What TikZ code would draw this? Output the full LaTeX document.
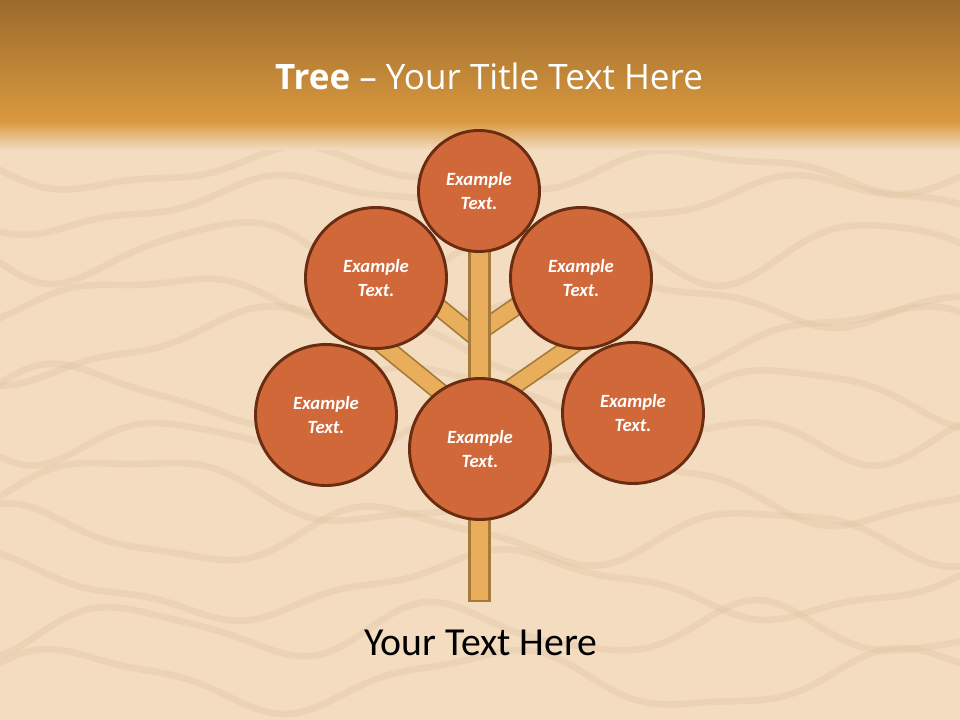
\documentclass[tikz,border=0pt]{standalone}
\usepackage{fontspec}
\setmainfont{Carlito}
\newfontfamily\titlefont{Open Sans}
\definecolor{bandtop}{HTML}{9B6B2C}
\definecolor{bandbot}{HTML}{DA993F}
\definecolor{wood}{HTML}{F3DCC0}
\definecolor{grain}{HTML}{DDBF9C}
\definecolor{ballfill}{HTML}{D1683A}
\definecolor{ballline}{HTML}{6B2D12}
\definecolor{stemfill}{HTML}{E8AE5C}
\definecolor{stemline}{HTML}{A57A3A}
\begin{document}
\begin{tikzpicture}[x=0.75pt,y=-0.75pt,
  ball/.style={circle,fill=ballfill,draw=ballline,line width=2.2pt,inner sep=0pt,
    font=\fontsize{14}{17.3}\selectfont\bfseries\itshape,text=white,align=center},
  branchout/.style={line width=14pt,draw=stemline},
  branchin/.style={line width=11.4pt,draw=stemfill},
  grainline/.style={draw=grain,line width=5pt,opacity=0.28,line cap=round}]
\useasboundingbox (0,0) rectangle (960,720);
% background
\fill[wood] (0,0) rectangle (960,720);
\foreach \y/\a/\f/\p in {170/18/0.9/0,205/25/0.7/60,250/30/1.1/20,300/22/0.8/140,345/35/0.6/90,
  395/28/1.0/200,440/20/1.3/40,490/32/0.75/170,535/26/0.95/260,585/30/0.65/300,630/24/1.15/120,680/28/0.85/210}{
  \draw[grainline] plot[domain=0:960,samples=60,smooth] (\x,{\y+\a*sin(\f*\x+\p)+6*sin(2.1*\x+\p)});
}
\shade[top color=bandtop,bottom color=bandbot] (0,0) rectangle (960,122);
\shade[top color=bandbot,bottom color=wood] (0,121.5) rectangle (960,150);
% title
\node[text=white,font=\titlefont\fontsize{26.3}{31}\selectfont] (title) at (489,76) {\textbf{Tree} – Your Title Text Here};
% branch anchor coordinates
\coordinate (ulA) at (479,340); \coordinate (ulB) at (430,300);
\coordinate (urA) at (479,332); \coordinate (urB) at (530,297);
\coordinate (llA) at (450,400); \coordinate (llB) at (380,343);
\coordinate (lrA) at (505,392); \coordinate (lrB) at (580,340);
\foreach \a/\b in {ulA/ulB,urA/urB,llA/llB,lrA/lrB}{
  \draw[branchout] (\a) -- (\b);
  \draw[branchin] (\a) -- (\b);
}
% trunk
\node[draw=stemline,fill=stemfill,line width=1.6pt,minimum width=20pt*0.75,minimum height=350*0.75pt,inner sep=0pt,anchor=north] (trunk) at (479.5,250) {};
% circles
\node[ball,minimum size=121*0.75pt] (top) at (479,191) {Example\\Text.};
\node[ball,minimum size=141*0.75pt] (ul) at (376,278) {Example\\Text.};
\node[ball,minimum size=141*0.75pt] (ur) at (581,278) {Example\\Text.};
\node[ball,minimum size=141*0.75pt] (ll) at (326,415) {Example\\Text.};
\node[ball,minimum size=141*0.75pt] (lr) at (633,413) {Example\\Text.};
\node[ball,minimum size=141*0.75pt] (mid) at (480,449) {Example\\Text.};
% bottom text
\node[font=\fontsize{29.8}{35}\selectfont,text=black] (sub) at (481,643) {Your Text Here};
\end{tikzpicture}
\end{document}
